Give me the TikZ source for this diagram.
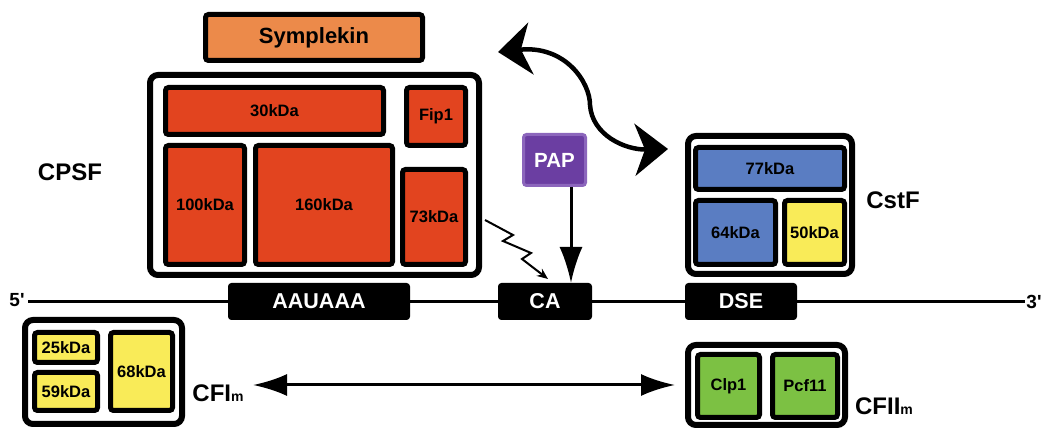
\documentclass[tikz,border=0pt]{standalone}
\usepackage{fontspec}
\setmainfont{Liberation Sans}
\usetikzlibrary{arrows.meta}

\definecolor{cpsfred}{HTML}{E2441F}
\definecolor{symorange}{HTML}{EC8A4A}
\definecolor{cstfblue}{HTML}{5A7DC2}
\definecolor{subyellow}{HTML}{F9EB58}
\definecolor{cfgreen}{HTML}{7CC143}
\definecolor{pappurple}{HTML}{6B3EA2}
\definecolor{papedge}{HTML}{8C66BC}

\tikzset{
  cplx/.style={draw=black,line width=6pt,rounded corners=8pt,fill=white,inner sep=0pt},
  sub/.style={draw=black,line width=5pt,rounded corners=3pt,inner sep=0pt,
    font=\fontsize{16.5}{18}\selectfont\bfseries},
  seq/.style={draw=black,fill=black,line width=1pt,rounded corners=3pt,inner sep=0pt,
    minimum height=36pt,text=white,font=\fontsize{21.5}{24}\selectfont\bfseries},
  lbl/.style={inner sep=0pt,font=\fontsize{24}{26}\selectfont\bfseries},
  endlbl/.style={inner sep=0pt,font=\fontsize{19}{20}\selectfont\bfseries},
}

\begin{document}
\begin{tikzpicture}[x=1pt,y=-1pt,>=Latex]

\useasboundingbox (0,0) rectangle (1045,430);

%%%%%%%%%%%%%%%%%%%%%%%%%%%%%%%%%%%%%%

\draw[line width=3pt] (28,302) -- (1025,302);
\node[endlbl] (five) at (17,300) {5\textquotesingle};
\node[endlbl] (three) at (1034,302) {3\textquotesingle};

\node[seq,minimum width=181pt] (aauaaa) at (319,301.5) {AAUAAA};
\node[seq,minimum width=93pt]  (ca)     at (545,301.5) {CA};
\node[seq,minimum width=111pt] (dse)    at (741,301.5) {DSE};

%%%%%%%%%%%%%%%%%%%%%%%%%%%%%%%%%%%%%%

\node[sub,fill=symorange,minimum width=217pt,minimum height=46pt,
  font=\fontsize{22}{24}\selectfont\bfseries] (sym) at (314,37.5) {Symplekin};

\node[cplx,minimum width=329pt,minimum height=200pt] (cpsf) at (314.5,175) {};
\node[sub,fill=cpsfred,minimum width=218pt,minimum height=47pt]  (k30)  at (274.5,111) {30kDa};
\node[sub,fill=cpsfred,minimum width=59pt,minimum height=58pt]   (fip)  at (436,116.5) {Fip1};
\node[sub,fill=cpsfred,minimum width=79pt,minimum height=119pt]  (k100) at (205,205) {100kDa};
\node[sub,fill=cpsfred,minimum width=137pt,minimum height=119pt] (k160) at (324,205) {160kDa};
\node[sub,fill=cpsfred,minimum width=63pt,minimum height=95pt]   (k73)  at (434,217) {73kDa};
\node[lbl] (cpsflbl) at (70,172) {CPSF};

%%%%%%%%%%%%%%%%%%%%%%%%%%%%%%%%%%%%%%

\node[cplx,minimum width=164pt,minimum height=138pt] (cstf) at (770,205) {};
\node[sub,fill=cstfblue,minimum width=149pt,minimum height=42pt] (k77) at (770,168.5) {77kDa};
\node[sub,fill=cstfblue,minimum width=80pt,minimum height=64pt]  (k64) at (735.5,232.5) {64kDa};
\node[sub,fill=subyellow,minimum width=60pt,minimum height=64pt] (k50) at (814.5,232.5) {50kDa};
\node[lbl] (cstflbl) at (893,200) {CstF};

%%%%%%%%%%%%%%%%%%%%%%%%%%%%%%%%%%%%%%

\node[cplx,minimum width=157pt,minimum height=104pt] (cfi) at (103.5,372) {};
\node[sub,fill=subyellow,minimum width=63pt,minimum height=30pt] (k25) at (66,347.5) {25kDa};
\node[sub,fill=subyellow,minimum width=63pt,minimum height=38pt] (k59) at (66,391.5) {59kDa};
\node[sub,fill=subyellow,minimum width=62pt,minimum height=78pt] (k68) at (141.5,371.5) {68kDa};
\node[lbl] (cfilbl) at (218,393) {CFI{\fontsize{14}{15}\selectfont m}};

\node[cplx,minimum width=157pt,minimum height=80pt] (cfii) at (766.5,385) {};
\node[sub,fill=cfgreen,minimum width=62pt,minimum height=63pt] (clp) at (728.5,386) {Clp1};
\node[sub,fill=cfgreen,minimum width=65pt,minimum height=63pt] (pcf) at (805,386) {Pcf11};
\node[lbl] (cfiilbl) at (884,406) {CFII{\fontsize{14}{15}\selectfont m}};

%%%%%%%%%%%%%%%%%%%%%%%%%%%%%%%%%%%%%%

\node[draw=papedge,fill=pappurple,line width=3pt,rounded corners=3pt,inner sep=0pt,
  minimum width=62pt,minimum height=51pt,text=white,
  font=\fontsize{20.5}{22}\selectfont\bfseries] (pap) at (554.5,160) {PAP};

\coordinate (papfoot) at (571,187);
\draw[line width=3pt,-{Latex[length=36pt,width=23pt]}] (papfoot) -- (papfoot |- ca.north);

% cleavage by 73kDa
\coordinate (zigfrom) at (485,220);
\coordinate (zigto) at (548,279);
\draw[line width=2pt,-{Stealth[length=11pt,width=9pt]}] (zigfrom) -- (513,235) -- (503,241)
  -- (531,253) -- (522,259) -- (zigto);

% CPSF - CstF contact
\coordinate (bendfrom) at (498,52);
\coordinate (bendto) at (668,149);
\draw[line width=4.5pt,{Stealth[length=33pt,width=52pt,inset=10pt]}-{Stealth[length=33pt,width=52pt,inset=10pt]}]
  (bendfrom) .. controls (565,45) and (590,82) .. (590,105)
  .. controls (592,135) and (625,150) .. (bendto);

% CFIm - CFIIm
\draw[line width=3pt,{Latex[length=34pt,width=22pt]}-{Latex[length=34pt,width=22pt]}]
  (253,385) -- (675,385);

\end{tikzpicture}
\end{document}
